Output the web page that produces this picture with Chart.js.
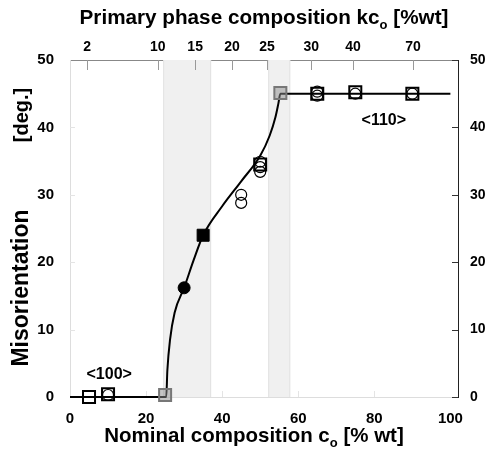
<!DOCTYPE html>
<html><head><meta charset="utf-8">
<script src="https://cdn.jsdelivr.net/npm/chart.js@4"></script>
<style>html,body{margin:0;padding:0;background:#fff}#wrap{width:486px;height:453px}</style>
</head><body><div id="wrap"><canvas id="c" width="486" height="453"></canvas></div>
<script>
// ---- data (nominal composition c_o [%wt] vs misorientation [deg.]) ----
const openSquareX = [5, 10, 50, 65, 75, 90];
const openSquareY = [0, 0.4, 34.5, 45, 45.2, 45];
const openCircleX = [10, 45, 45, 50, 50, 50, 65, 65, 75, 90];
const openCircleY = [0.3, 30, 28.8, 34.9, 34.1, 33.4, 45.3, 44.7, 45, 45];
const greySquareX = [25, 55.3];
const greySquareY = [0.3, 45.1];
const filledCircleX = [30];
const filledCircleY = [16.2];
const filledSquareX = [35];
const filledSquareY = [24];
const curveX = [0, 25.3, 25.6, 26.3, 27.5, 30, 32.5, 35, 40, 45, 50, 52.5, 54, 54.8, 55.3, 60, 100];
const curveY = [0, 0, 4, 8.5, 12.5, 16.2, 20.3, 24, 28.3, 32, 35.8, 38.8, 41.5, 43.6, 45, 45, 45];
// top axis: primary phase composition kc_o, placed at nominal-composition positions
const topTickPos = [4.5, 23.1, 32.9, 42.6, 51.8, 63.4, 74.4, 90.2];
const topTickLabels = ['2', '10', '15', '20', '25', '30', '40', '70'];
const yTicks = [0, 10, 20, 30, 40, 50];
const xTicks = [0, 20, 40, 60, 80, 100];
const shadedBands = [[24.5, 37.1], [52.1, 57.9]];
const annotations = [{text: '<100>', x: 10.3, y: 3.3}, {text: '<110>', x: 82.5, y: 41}];

const pts = (xs, ys) => xs.map((x, i) => ({x, y: ys[i]}));
const FONT = "'Liberation Sans', Arial, sans-serif";

const bgPlugin = {
  id: 'bg',
  beforeDatasetsDraw(chart) {
    const {ctx, chartArea: a, scales: {x, y}} = chart;
    ctx.save();
    shadedBands.forEach(([s, e]) => {
      const x0 = x.getPixelForValue(s), x1 = x.getPixelForValue(e);
      ctx.fillStyle = '#f0f0f0';
      ctx.fillRect(x0, a.top, x1 - x0, a.bottom - a.top);
      ctx.strokeStyle = '#e2e2e2'; ctx.lineWidth = 1;
      ctx.beginPath(); ctx.moveTo(x0 + 0.5, a.top); ctx.lineTo(x0 + 0.5, a.bottom);
      ctx.moveTo(x1 - 0.5, a.top); ctx.lineTo(x1 - 0.5, a.bottom); ctx.stroke();
    });
    // inside tick marks
    ctx.lineWidth = 1;
    ctx.strokeStyle = '#999';
    topTickPos.forEach(v => { const px = Math.round(x.getPixelForValue(v)) + 0.5;
      ctx.beginPath(); ctx.moveTo(px, a.top); ctx.lineTo(px, a.top + 10); ctx.stroke(); });
    ctx.strokeStyle = '#e4e4e4';
    xTicks.slice(1, 5).forEach(v => { const px = Math.round(x.getPixelForValue(v)) + 0.5;
      ctx.beginPath(); ctx.moveTo(px, a.bottom); ctx.lineTo(px, a.bottom - 6); ctx.stroke(); });
    yTicks.slice(1, 5).forEach(v => { const py = Math.round(y.getPixelForValue(v)) + 0.5;
      ctx.beginPath(); ctx.moveTo(a.left, py); ctx.lineTo(a.left + 5, py); ctx.stroke(); });
    ctx.strokeStyle = '#333';
    yTicks.forEach(v => { const py = Math.round(y.getPixelForValue(v)) + 0.5;
      ctx.beginPath(); ctx.moveTo(a.right, py); ctx.lineTo(a.right - 6, py); ctx.stroke(); });
    ctx.restore();
  },
  afterDraw(chart) {
    const {ctx, chartArea: a, scales: {x, y}} = chart;
    ctx.save();
    ctx.fillStyle = '#000';
    ctx.font = 'bold 16px ' + FONT;
    ctx.textAlign = 'center'; ctx.textBaseline = 'middle';
    annotations.forEach(t => ctx.fillText(t.text, x.getPixelForValue(t.x), y.getPixelForValue(t.y)));
    // titles with subscripts
    const drawSub = (parts, cx, cy, size) => {
      const big = 'bold ' + size + 'px ' + FONT, small = 'bold 13px ' + FONT;
      let w = 0;
      parts.forEach(p => { ctx.font = p.sub ? small : big; w += ctx.measureText(p.t).width; });
      let px = cx - w / 2;
      ctx.textAlign = 'left'; ctx.textBaseline = 'alphabetic';
      parts.forEach(p => { ctx.font = p.sub ? small : big;
        ctx.fillText(p.t, px, cy + (p.sub ? 5 : 0)); px += ctx.measureText(p.t).width; });
    };
    drawSub([{t: 'Primary phase composition kc'}, {t: 'o', sub: 1}, {t: ' [%wt]'}], 264, 24, 20.7);
    drawSub([{t: 'Nominal composition c'}, {t: 'o', sub: 1}, {t: ' [% wt]'}], 254, 442, 20.5);
    ctx.save();
    ctx.translate(22, 0); ctx.rotate(-Math.PI / 2);
    ctx.textAlign = 'center'; ctx.textBaseline = 'middle';
    ctx.font = 'bold 23px ' + FONT;
    ctx.fillText('Misorientation', -288, 0);
    ctx.font = 'bold 20px ' + FONT;
    ctx.fillText('[deg.]', -115, 0);
    ctx.restore();
    ctx.restore();
  }
};

new Chart(document.getElementById('c'), {
  type: 'scatter',
  data: {
    datasets: [
      {data: pts(curveX, curveY), showLine: true, borderColor: '#000', borderWidth: 2,
       pointRadius: 0, cubicInterpolationMode: 'monotone', order: 5, clip: false},
      {data: pts(openCircleX, openCircleY), pointStyle: 'circle', pointRadius: 5.5, clip: false,
       pointBorderColor: '#000', pointBackgroundColor: 'rgba(0,0,0,0)', pointBorderWidth: 1.2, order: 2},
      {data: pts(openSquareX, openSquareY), pointStyle: 'rect', pointRadius: 8.5, clip: false,
       pointBorderColor: '#000', pointBackgroundColor: 'rgba(0,0,0,0)', pointBorderWidth: 2, order: 3},
      {data: pts(greySquareX, greySquareY), pointStyle: 'rect', pointRadius: 8.5, clip: false,
       pointBorderColor: '#777', pointBackgroundColor: 'rgba(140,140,140,0.5)', pointBorderWidth: 2, order: 4},
      {data: pts(filledCircleX, filledCircleY), pointStyle: 'circle', pointRadius: 6, clip: false,
       pointBorderColor: '#000', pointBackgroundColor: '#000', order: 1},
      {data: pts(filledSquareX, filledSquareY), pointStyle: 'rect', pointRadius: 8.5, clip: false,
       pointBorderColor: '#000', pointBackgroundColor: '#000', order: 1}
    ]
  },
  options: {
    responsive: false, animation: false, devicePixelRatio: 1,
    layout: {padding: 0},
    plugins: {legend: {display: false}, tooltip: {enabled: false}},
    font: {family: FONT},
    scales: {
      x: {type: 'linear', position: 'bottom', min: 0, max: 102,
        afterFit: s => { s.height = 56; },
        afterBuildTicks: s => { s.ticks = xTicks.map(v => ({value: v})); },
        grid: {display: false, drawTicks: false}, border: {color: '#ddd'},
        ticks: {padding: 13, color: '#000', font: {family: FONT, size: 15, weight: 'bold'}, maxRotation: 0}},
      x2: {type: 'linear', position: 'top', min: 0, max: 102,
        afterFit: s => { s.height = 60; },
        afterBuildTicks: s => { s.ticks = topTickPos.map(v => ({value: v})); },
        grid: {display: false, drawTicks: false}, border: {color: '#888'},
        ticks: {padding: 4, color: '#000', font: {family: FONT, size: 14, weight: 'bold'}, maxRotation: 0,
          callback: (v, i) => topTickLabels[i]}},
      y: {type: 'linear', position: 'left', min: 0, max: 50,
        afterFit: s => { s.width = 70; },
        afterBuildTicks: s => { s.ticks = yTicks.map(v => ({value: v})); },
        grid: {display: false, drawTicks: false}, border: {color: '#ddd'},
        ticks: {padding: 16, color: '#000', font: {family: FONT, size: 15, weight: 'bold'}}},
      y2: {type: 'linear', position: 'right', min: 0, max: 50,
        afterFit: s => { s.width = 28; },
        afterBuildTicks: s => { s.ticks = yTicks.map(v => ({value: v})); },
        grid: {display: false, drawTicks: false}, border: {color: '#222'},
        ticks: {padding: 12, color: '#000', font: {family: FONT, size: 14, weight: 'bold'}}}
    }
  },
  plugins: [bgPlugin]
});
</script>
</body></html>
